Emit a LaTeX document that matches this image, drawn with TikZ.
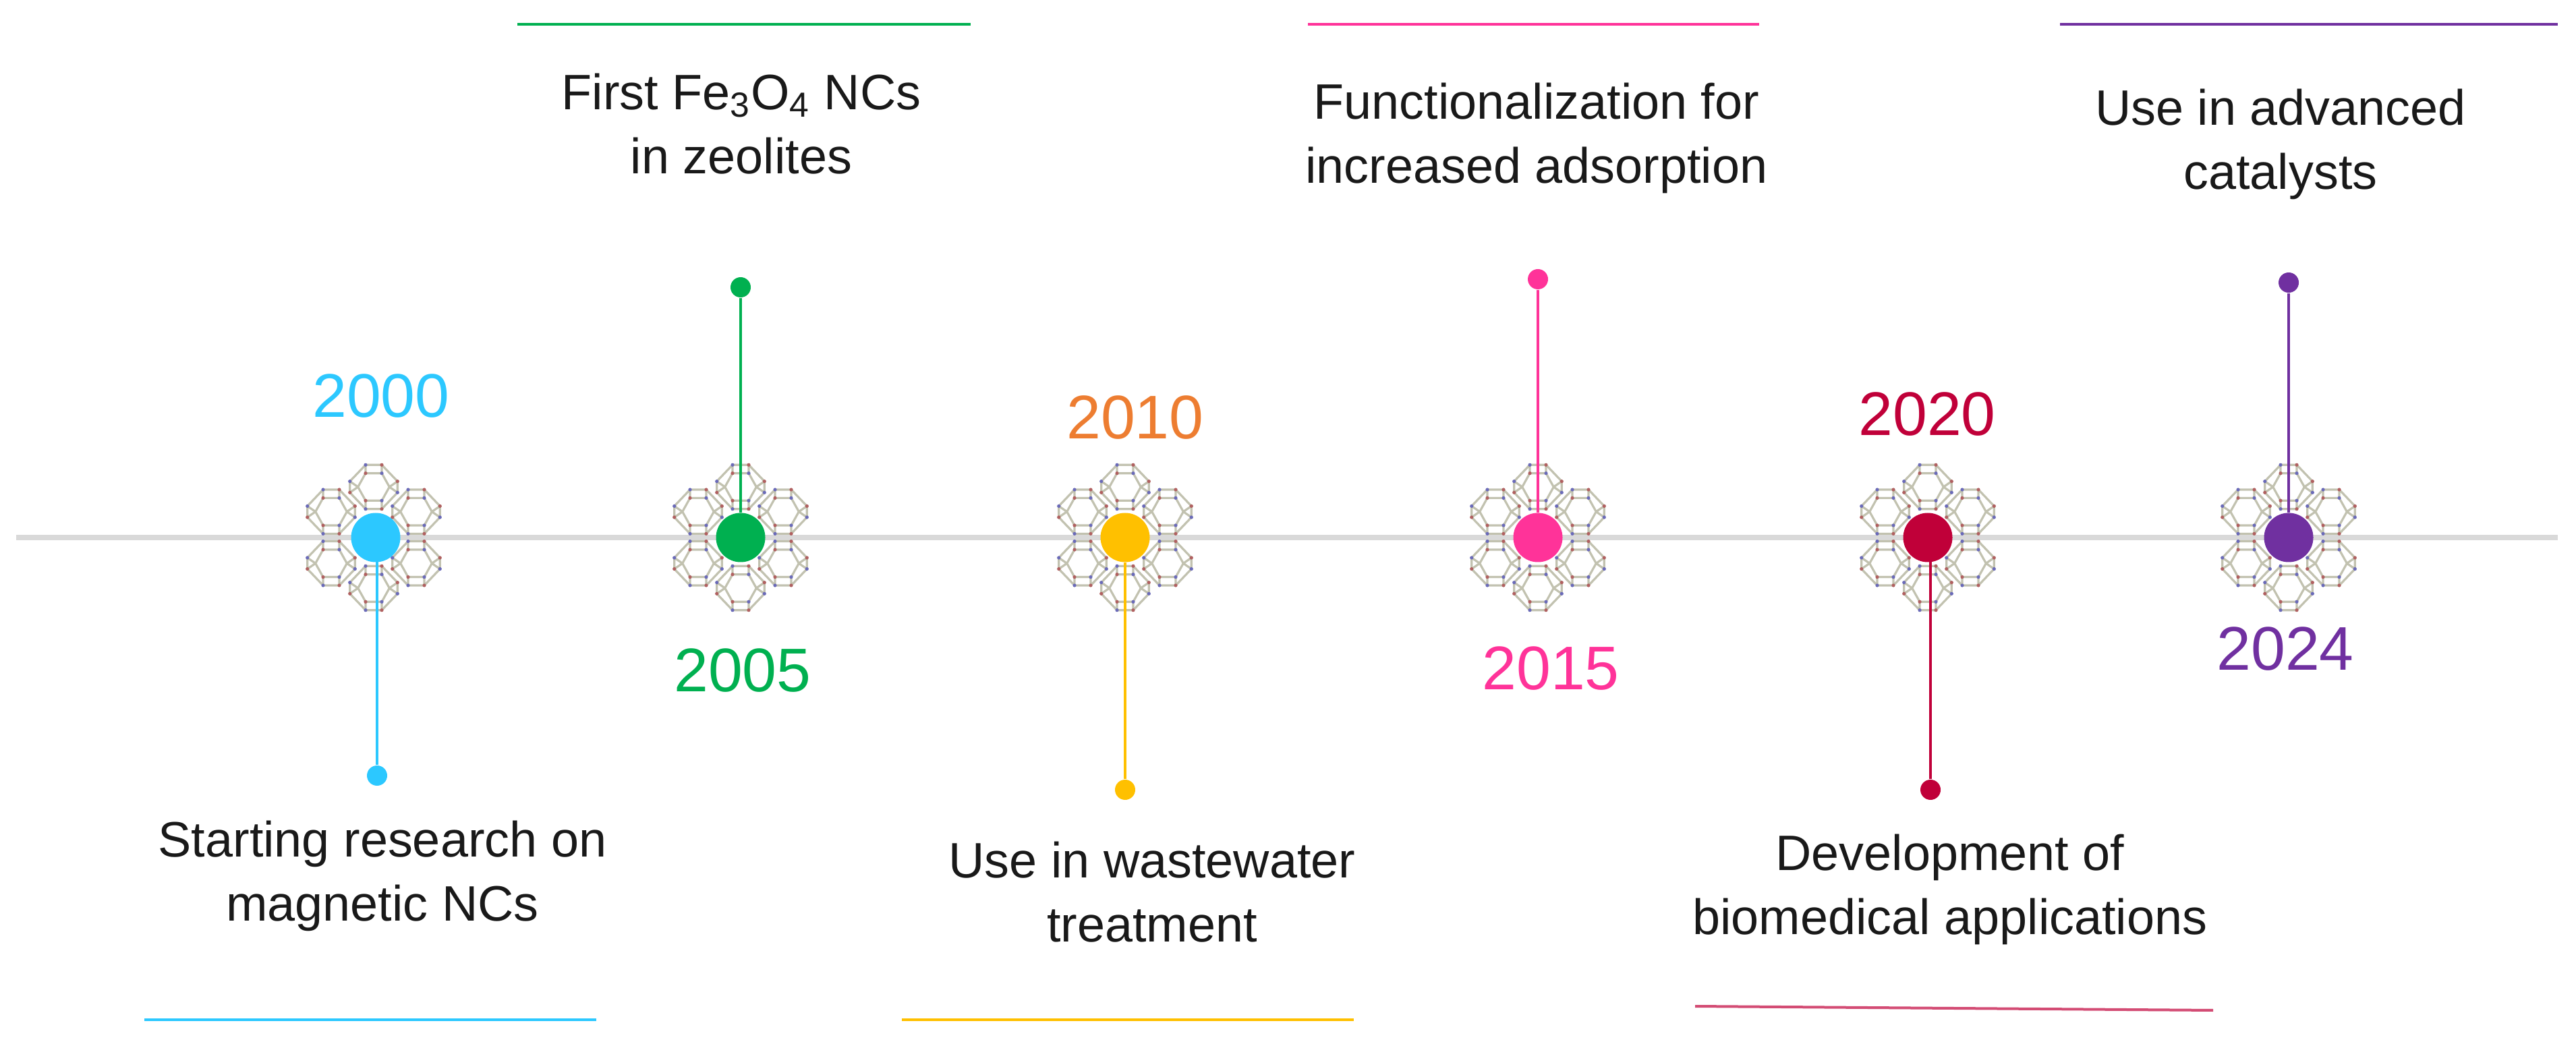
\documentclass[tikz,border=0pt]{standalone}
\usepackage{fontspec}
\setmainfont{Liberation Sans}
\definecolor{c2000}{HTML}{2CC8FF}
\definecolor{c2005}{HTML}{00B050}
\definecolor{c2010}{HTML}{FFC000}
\definecolor{t2010}{HTML}{ED7D31}
\definecolor{c2015}{HTML}{FF3399}
\definecolor{c2020}{HTML}{C00039}
\definecolor{c2024}{HTML}{7030A0}
\definecolor{frame}{HTML}{C2C2B0}
\definecolor{oxred}{HTML}{B06060}
\definecolor{siblue}{HTML}{6A6AB8}
\tikzstyle{axis}=[line width=0.08cm, color=black!15]
\tikzstyle{hub}=[circle, inner sep=0pt, minimum size=0.73cm]
\tikzstyle{tip}=[circle, inner sep=0pt, minimum size=0.3cm]
\tikzstyle{stem}=[line width=0.04cm]
\tikzstyle{rule}=[line width=0.04cm]
\tikzstyle{year}=[font=\fontsize{26}{30}\selectfont]
\tikzstyle{note}=[font=\fontsize{21}{27}\selectfont, align=center, text=black!90]
\tikzset{
  cell/.pic={
    \draw[frame, line width=0.032cm, line join=round]
      (-.12,.327) -- (.12,.327) -- (.353,.083) -- (.353,-.083) -- (.12,-.327) -- (-.12,-.327) -- (-.353,-.083) -- (-.353,.083) -- cycle
      (-.12,.203) -- (.12,.203) -- (.233,0) -- (.12,-.203) -- (-.12,-.203) -- (-.233,0) -- cycle
      (-.12,.327) -- (-.12,.203) (.12,.327) -- (.12,.203)
      (-.12,-.327) -- (-.12,-.203) (.12,-.327) -- (.12,-.203)
      (.233,0) -- (.353,.083) (.233,0) -- (.353,-.083)
      (-.233,0) -- (-.353,.083) (-.233,0) -- (-.353,-.083);
    \foreach \px/\py in {-.12/.327, .12/.203, .12/-.203, -.12/-.327, .353/-.083, -.353/.083}
      \fill[siblue] (\px,\py) circle (0.026);
    \foreach \px/\py in {.12/.327, -.12/.203, -.12/-.203, .12/-.327, .353/.083, -.353/-.083}
      \fill[oxred] (\px,\py) circle (0.026);
  },
  zeolite/.pic={
    \pic at (0,.75) {cell};
    \pic at (0,-.75) {cell};
    \pic at (.63,.383) {cell};
    \pic at (-.63,.383) {cell};
    \pic at (.63,-.383) {cell};
    \pic at (-.63,-.383) {cell};
  }
}
\begin{document}
\begin{tikzpicture}
	\useasboundingbox (0,0) rectangle (38.19,15.44);
	\coordinate (axisL) at (0.24,7.47);
	\coordinate (axisR) at (37.92,7.47);
	\draw[axis] (axisL) -- (axisR);

	\pic at (5.54,7.47) {zeolite};
	\pic at (10.98,7.47) {zeolite};
	\pic at (16.68,7.47) {zeolite};
	\pic at (22.80,7.47) {zeolite};
	\pic at (28.58,7.47) {zeolite};
	\pic at (33.93,7.47) {zeolite};

	\node[hub, fill=c2000] (hub2000) at (5.57,7.47) {};
	\node[hub, fill=c2005] (hub2005) at (10.98,7.47) {};
	\node[hub, fill=c2010] (hub2010) at (16.68,7.47) {};
	\node[hub, fill=c2015] (hub2015) at (22.80,7.47) {};
	\node[hub, fill=c2020] (hub2020) at (28.58,7.47) {};
	\node[hub, fill=c2024] (hub2024) at (33.93,7.47) {};

	\node[tip, fill=c2000] (tip2000) at (5.59,3.94) {};
	\node[tip, fill=c2005] (tip2005) at (10.98,11.18) {};
	\node[tip, fill=c2010] (tip2010) at (16.68,3.73) {};
	\node[tip, fill=c2015] (tip2015) at (22.80,11.30) {};
	\node[tip, fill=c2020] (tip2020) at (28.62,3.73) {};
	\node[tip, fill=c2024] (tip2024) at (33.93,11.25) {};

	\draw[stem, c2000] (hub2000 -| tip2000) -- (tip2000);
	\draw[stem, c2005] (hub2005) -- (tip2005);
	\draw[stem, c2010] (hub2010) -- (tip2010);
	\draw[stem, c2015] (hub2015) -- (tip2015);
	\draw[stem, c2020] (hub2020 -| tip2020) -- (tip2020);
	\draw[stem, c2024] (hub2024) -- (tip2024);

	\node[year, text=c2000] (year2000) at (5.65,9.57) {2000};
	\node[year, text=c2005] (year2005) at (11.01,5.50) {2005};
	\node[year, text=t2010] (year2010) at (16.83,9.25) {2010};
	\node[year, text=c2015] (year2015) at (22.99,5.53) {2015};
	\node[year, text=c2020] (year2020) at (28.57,9.30) {2020};
	\node[year, text=c2024] (year2024) at (33.88,5.82) {2024};

	\node[note] (note2000) at (5.67,2.45) {Starting research on\\magnetic NCs};
	\node[note] (note2005) at (10.99,13.60) {First Fe\textsubscript{3}O\textsubscript{4} NCs\\in zeolites};
	\node[note] (note2010) at (17.08,2.21) {Use in wastewater\\treatment};
	\node[note] (note2015) at (22.78,13.39) {Functionalization for\\increased adsorption};
	\node[note] (note2020) at (28.91,2.25) {Development of\\biomedical applications};
	\node[note] (note2024) at (33.81,13.30) {Use in advanced\\catalysts};

	\coordinate (rule2000a) at (2.14,0.32);
	\coordinate (rule2000b) at (8.84,0.32);
	\coordinate (rule2005a) at (7.67,15.08);
	\coordinate (rule2005b) at (14.39,15.08);
	\coordinate (rule2010a) at (13.37,0.32);
	\coordinate (rule2010b) at (20.07,0.32);
	\coordinate (rule2015a) at (19.39,15.08);
	\coordinate (rule2015b) at (26.08,15.08);
	\coordinate (rule2020a) at (25.13,0.52);
	\coordinate (rule2020b) at (32.81,0.46);
	\coordinate (rule2024a) at (30.54,15.08);
	\coordinate (rule2024b) at (37.92,15.08);
	\draw[rule, c2000] (rule2000a) -- (rule2000b);
	\draw[rule, c2005] (rule2005a) -- (rule2005b);
	\draw[rule, c2010] (rule2010a) -- (rule2010b);
	\draw[rule, c2015] (rule2015a) -- (rule2015b);
	\draw[rule, c2020!70] (rule2020a) -- (rule2020b);
	\draw[rule, c2024] (rule2024a) -- (rule2024b);
\end{tikzpicture}
\end{document}
